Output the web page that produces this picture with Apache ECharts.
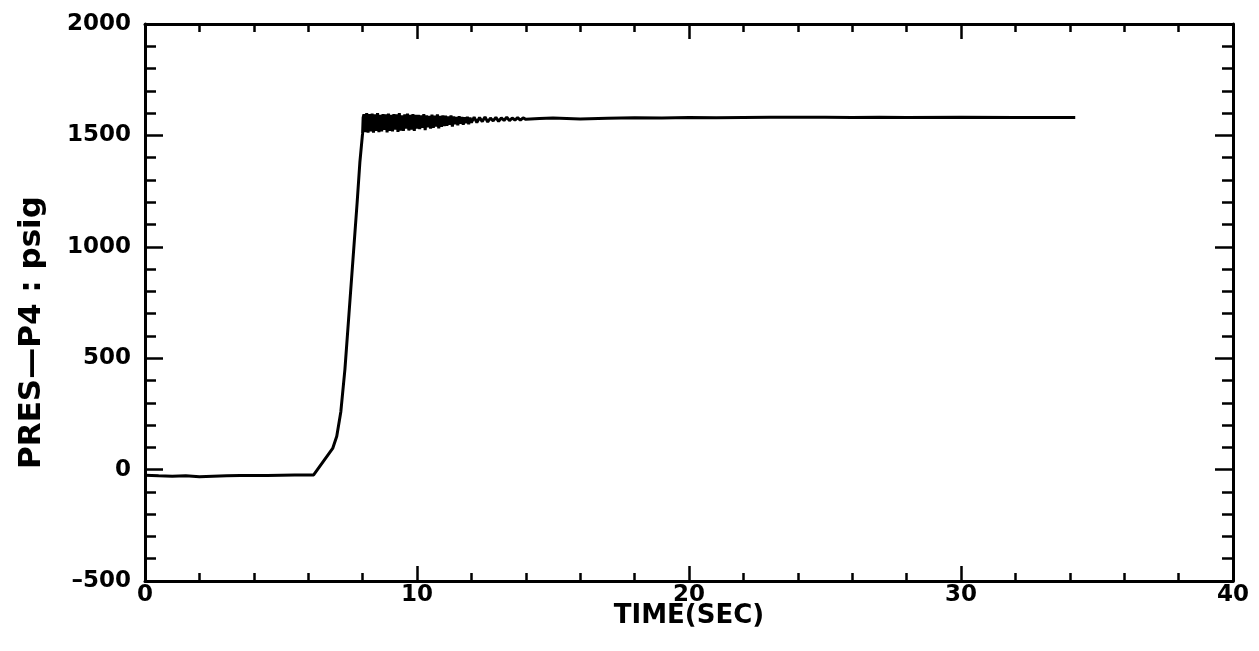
<!DOCTYPE html>
<html>
<head>
<meta charset="utf-8">
<script src="https://cdn.jsdelivr.net/npm/echarts@6/dist/echarts.min.js"></script>
<style>
  html, body { margin: 0; padding: 0; background: #fff; }
  #box { width: 1259px; height: 651px; }
</style>
</head>
<body>
<div id="box"></div>
<script>
// 曲线数据
var rampTime = [0, 0.5, 1, 1.5, 2, 2.5, 3, 3.5, 4, 4.5, 5, 5.5, 6, 6.2, 6.9, 7.05, 7.2, 7.35, 7.5, 7.65, 7.8, 7.9, 8.0, 8.02];
var rampValue = [-25, -28, -30, -28, -32, -30, -28, -27, -26, -27, -25, -24, -24, -24, 95, 150, 260, 450, 700, 950, 1200, 1380, 1510, 1580];

// 抖动段 8.05 ~ 12.0 s，采样间隔 0.05 s
var bandAStart = 8.05, bandAStep = 0.05;
var bandAValue = [
  1595, 1515, 1600, 1512, 1596, 1518, 1598, 1512, 1594, 1520, 1600, 1515, 1592, 1518, 1596, 1525, 1594, 1514, 1598, 1520,
  1592, 1518, 1596, 1526, 1594, 1516, 1600, 1522, 1590, 1520, 1594, 1530, 1598, 1522, 1592, 1526, 1595, 1520, 1592, 1530,
  1592, 1528, 1590, 1534, 1595, 1524, 1590, 1536, 1588, 1530, 1593, 1534, 1589, 1540, 1594, 1532, 1587, 1538, 1590, 1542,
  1588, 1543, 1585, 1548, 1590, 1540, 1585, 1550, 1583, 1546, 1586, 1553, 1583, 1548, 1581, 1555, 1584, 1550, 1580, 1557
];
// 12.1 ~ 14.0 s，采样间隔 0.1 s
var bandBStart = 12.1, bandBStep = 0.1;
var bandBValue = [1582, 1558, 1580, 1562, 1583, 1560, 1578, 1565, 1581, 1563, 1579, 1567, 1582, 1566, 1578, 1569, 1580, 1568, 1579, 1572];

// 稳定段
var tailTime = [14.5, 15, 16, 17, 18, 19, 20, 21, 22, 23, 24, 25, 26, 27, 28, 30, 32, 34.2];
var tailValue = [1576, 1578, 1574, 1577, 1579, 1578, 1580, 1579, 1580, 1581, 1582, 1581, 1580, 1581, 1580, 1581, 1580, 1580];

var data = [];
rampTime.forEach(function (t, i) { data.push([t, rampValue[i]]); });
bandAValue.forEach(function (v, i) { data.push([+(bandAStart + i * bandAStep).toFixed(2), v]); });
bandBValue.forEach(function (v, i) { data.push([+(bandBStart + i * bandBStep).toFixed(2), v]); });
tailTime.forEach(function (t, i) { data.push([t, tailValue[i]]); });

var FONT = "DejaVu Sans";
var myChart = echarts.init(document.getElementById("box"));

var lineStyle = { color: "#000", width: 3 };
function xAx(pos, show) {
  return {
    type: "value", position: pos, min: 0, max: 40, interval: 10,
    axisLine: { show: true, onZero: false, lineStyle: lineStyle },
    axisTick: { show: true, inside: true, length: 15, lineStyle: { color: "#000", width: 2.5 } },
    minorTick: { show: true, splitNumber: 5, length: 8, lineStyle: { color: "#000", width: 2.5 } },
    splitLine: { show: false },
    axisLabel: { show: show, color: "#000", fontFamily: FONT, fontWeight: "bold", fontSize: 23, margin: 3 },
  };
}
function yAx(pos, show) {
  return {
    type: "value", position: pos, min: -500, max: 2000, interval: 500,
    axisLine: { show: true, onZero: false, lineStyle: lineStyle },
    axisTick: { show: true, inside: true, length: 18, lineStyle: { color: "#000", width: 2.5 } },
    minorTick: { show: true, splitNumber: 5, length: 11, lineStyle: { color: "#000", width: 2.5 } },
    splitLine: { show: false },
    axisLabel: {
      show: show, color: "#000", fontFamily: FONT, fontWeight: "bold", fontSize: 23, margin: 14,
      formatter: function (v) { return v < 0 ? "\u2013" + Math.abs(v) : String(v); },
    },
  };
}

var xBottom = xAx("bottom", true);
xBottom.name = "TIME(SEC)";
xBottom.nameLocation = "middle";
xBottom.nameGap = 22;
xBottom.nameMoveOverlap = false;
xBottom.nameTextStyle = { color: "#000", fontFamily: FONT, fontWeight: "bold", fontSize: 26 };

var yLeft = yAx("left", true);
yLeft.name = "PRES\u2014P4 : psig";
yLeft.nameLocation = "middle";
yLeft.nameGap = 98;
yLeft.nameMoveOverlap = false;
yLeft.nameTextStyle = { color: "#000", fontFamily: FONT, fontWeight: "bold", fontSize: 31, padding: [0, 60, 0, 0] };

myChart.setOption({
  animation: false,
  backgroundColor: "#fff",
  grid: { left: 145, top: 24, right: 26, bottom: 70 },
  xAxis: [xBottom, xAx("top", false)],
  yAxis: [yLeft, yAx("right", false)],
  series: [
    {
      type: "line",
      data: data,
      showSymbol: false,
      lineStyle: { color: "#000", width: 3 },
    },
  ],
});
</script>
</body>
</html>
